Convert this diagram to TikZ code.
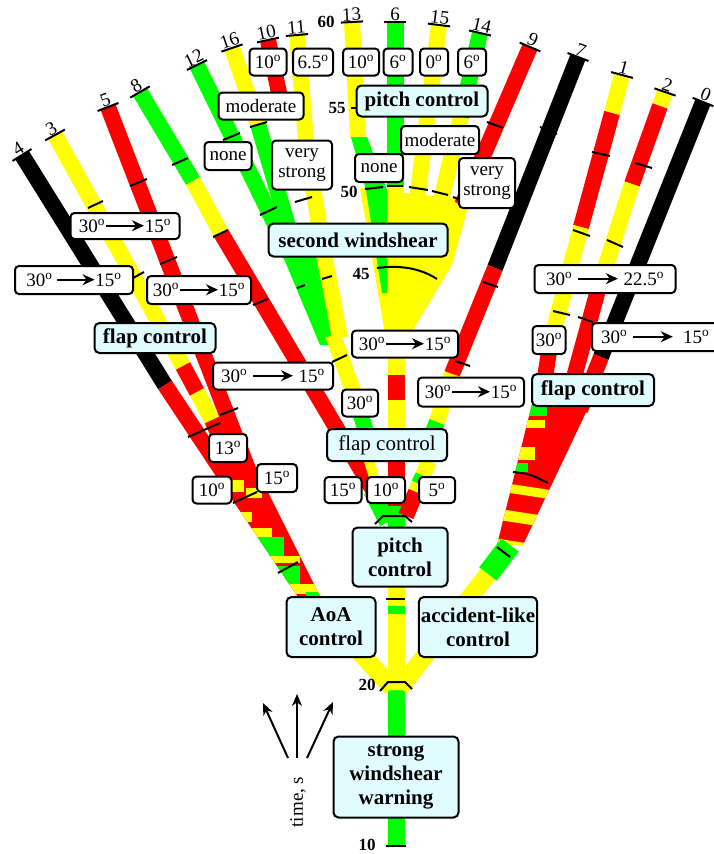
\documentclass[tikz,border=0pt]{standalone}
\usepackage{fontspec}
\setmainfont{Liberation Serif}
\usetikzlibrary{arrows.meta}
\definecolor{bgrn}{HTML}{00FF00}
\definecolor{byel}{HTML}{FFFF00}
\definecolor{bred}{HTML}{FF0000}
\definecolor{boxfill}{HTML}{E0FCFF}
\newcommand{\dg}{\textsuperscript{o}}
\newcommand{\rarr}[1]{\tikz[baseline=-6.5pt]\draw[line width=1.8pt,-{Stealth[length=12pt,width=11pt]}] (0pt,0pt) -- (#1,0pt);}

\begin{document}
\begin{tikzpicture}[x=1pt, y=-1pt,
    band/.style = {line width=16pt},
    tk/.style = {line width=2pt, black},
    ctrl/.style = {draw, line width=2pt, rounded corners=5pt, fill=boxfill, align=center,
                   inner sep=2pt, font=\bfseries\fontsize{21}{24}\selectfont},
    tag/.style = {draw, line width=2pt, rounded corners=4pt, fill=white, align=center,
                  inner sep=2pt, font=\fontsize{19}{20}\selectfont},
    numtop/.style = {font=\fontsize{19}{19}\selectfont, inner sep=1pt, minimum width=22pt,
                     anchor=south, rotate=#1,
                     append after command={(\tikzlastnode.south west) edge[tk] (\tikzlastnode.south east)}},
    tnum/.style = {font=\bfseries\fontsize{17}{17}\selectfont, inner sep=0pt},
    tarr/.style = {line width=2pt, -{Stealth[length=12pt,width=10pt]}}
  ]
    \useasboundingbox (0,0) rectangle (713,854);

    % trunk and first fork
    \draw[band,bgrn,line width=17pt] (396,690) -- (396,846);
    \draw[band,byel,line width=17pt] (396,587) -- (396,690);
    \draw[bgrn,line width=17pt] (396,606) -- (396,614);
    \draw[band,byel,line width=18pt] (311,598) -- (392,688);
    \draw[band,byel,line width=18pt] (488,574) -- (400,688);
    \fill[byel] (381,690) -- (411,690) -- (404,672) -- (388,672) -- cycle;

    % left group: 4, 3, 5
    \draw[band,black] (22,155) -- (165,385);
    \draw[band,bred] (165,385) -- (238,495);
    \draw[band,byel] (55,135) -- (183,366);
    \draw[band,bred] (183,366) -- (197,392);
    \draw[band,byel] (197,392) -- (212,420);
    \draw[band,bred] (212,420) -- (245,490);
    \draw[band,bred] (108,107) -- (258,495);
    \begin{scope}
      \clip (219,480) -- (262,480) -- (322,600) -- (300,600) -- cycle;
      \fill[bred] (200,470) rectangle (330,610);
      \fill[byel] (228,478) rectangle (244,492);
      \fill[byel] (246,488) rectangle (262,498);
      \fill[byel] (238,512) rectangle (252,522);
      \fill[byel] (252,528) rectangle (272,540);
      \fill[bgrn] (258,537) rectangle (284,556);
      \fill[byel] (270,556) rectangle (300,563);
      \fill[bgrn] (276,566) rectangle (300,588);
      \fill[byel] (290,584) rectangle (322,594);
      \fill[bgrn] (306,592) rectangle (322,600);
    \end{scope}

    % middle-left group: 8, 12, 16, 10, 11
    \draw[band,bgrn] (140,92) -- (193,181);
    \draw[band,byel] (193,181) -- (221,233);
    \draw[band,bred] (221,233) -- (372,488);
    \draw[band,bgrn] (197,65) -- (290,255);
    \draw[band,byel] (232,48) -- (258,124);
    \draw[band,bgrn] (258,124) -- (292,240);
    \draw[band,bred] (268,40) -- (283,112);
    \fill[bgrn] (272,230) -- (318,230) -- (338,330) -- (335,345) -- (320,345) -- cycle;
    \draw[band,byel] (297,35) -- (306,140) -- (322,245) -- (333,300) -- (340,338);
    \draw[band,byel] (333,335) -- (358,405);
    \draw[band,bgrn] (358,405) -- (366,432);

    % centre fan: 13, 6, 15, 14, 9
    \fill[byel] (360,188) -- (470,200) -- (452,265) -- (425,310) -- (404,345) -- (387,345) -- cycle;
    \draw[band,byel] (352,22) -- (358,137);
    \fill[bgrn] (351,137) -- (367,137) -- (387,190) -- (387,293) -- (382,293) -- (366,190) -- cycle;
    \draw[band,bgrn,line width=17pt] (395,22) -- (395,187);
    \draw[band,byel,line width=17pt] (395,187) -- (395,200);
    \draw[band,byel] (439,25) -- (417,200);
    \draw[band,bgrn] (480,33) -- (461,117);
    \draw[band,byel] (461,117) -- (440,205);
    \draw[band,bred] (530,47) -- (462,205);
    \draw[band,byel,line width=17pt] (396,340) -- (396,375);
    \draw[band,bred,line width=17pt] (396,375) -- (396,400);
    \draw[band,byel,line width=17pt] (396,400) -- (396,432);

    % branch 7 into the centre
    \draw[band,black] (578,57) -- (495,268);
    \draw[band,bred] (495,268) -- (452,374);
    \draw[band,byel] (452,374) -- (437,422);
    \draw[band,bgrn] (437,422) -- (433,432);

    % below the centre flap control
    \draw[bred,line width=12pt] (352,458) -- (372,492);
    \draw[byel,line width=10pt] (368,458) -- (380,496);
    \draw[band,bgrn,line width=18pt] (372,490) -- (388,522);
    \draw[band,bred,line width=17pt] (396,460) -- (396,506);
    \draw[band,bgrn,line width=17pt] (396,506) -- (396,530);
    \draw[band,byel] (429,461) -- (423,476);
    \draw[band,bgrn] (423,476) -- (419,484);
    \draw[band,byel] (419,484) -- (416,492);
    \draw[band,bred] (416,492) -- (406,516);

    % right group: 1, 2, 0
    \draw[band,byel] (622,75) -- (612,113);
    \draw[band,bred] (612,113) -- (581,227);
    \draw[band,byel] (581,227) -- (550,345);
    \draw[band,bred] (550,345) -- (540,410);
    \draw[band,byel] (665,92) -- (660,106);
    \draw[band,bred] (660,106) -- (632,184);
    \draw[band,byel] (632,184) -- (598,290);
    \draw[band,bred] (598,290) -- (565,410);
    \draw[band,black] (703,102) -- (601,357);
    \draw[band,bred] (601,357) -- (580,410);
    \begin{scope}
      \clip (532,404) -- (590,404) -- (523,545) -- (497,545) -- cycle;
      \fill[bred] (480,400) rectangle (600,550);
      \fill[bgrn] (515,404) rectangle (547,416);
      \fill[byel] (515,420) rectangle (545,428);
      \fill[byel] (505,447) rectangle (535,460);
      \fill[bgrn] (500,463) rectangle (528,472);
      \draw[byel,line width=9pt] (480,484) -- (600,502);
      \draw[byel,line width=11pt] (470,510) -- (600,530);
      \draw[byel,line width=7pt] (470,538) -- (600,558);
    \end{scope}
    \draw[band,bgrn,line width=22pt] (510,545) -- (488,574);

    % time marks across the strands
    \draw[tk] (88,208) -- (103,201);
    \draw[tk] (133,278) -- (144,272);
    \draw[tk] (130,186) -- (147,179);
    \draw[tk] (160,264) -- (177,257);
    \draw[tk] (188,437) -- (220,423);
    \draw[tk] (220,415) -- (238,408);
    \draw[tk] (233,503) -- (257,492);
    \draw[tk] (278,573) -- (298,562);
    \draw[tk] (172,165) -- (188,158);
    \draw[tk] (213,237) -- (228,230);
    \draw[tk] (253,305) -- (268,299);
    \draw[tk] (223,140) -- (240,133);
    \draw[tk] (260,215) -- (277,207);
    \draw[tk] (250,127) -- (267,122);
    \draw[tk] (295,202) -- (312,197);
    \draw[tk] (322,279) -- (332,276);
    \draw[tk] (297,288) -- (305,285);
    \draw[tk] (332,362) -- (347,355);
    \draw[tk] (365,189) -- (383,187);
    \draw[tk] (387,186) -- (403,186);
    \draw[tk] (409,187) -- (428,190);
    \draw[tk] (432,191) -- (448,195);
    \draw[tk] (453,197) -- (461,200);
    \draw[tk] (377,268) .. controls (400,265) and (420,268) .. (437,279);
    \draw[tk] (351,108) -- (357,108);
    \draw[tk] (487,122) -- (503,128);
    \draw[tk] (540,127) -- (557,134);
    \draw[tk] (483,282) -- (498,287);
    \draw[tk] (455,361) -- (470,366);
    \draw[tk] (592,152) -- (610,156);
    \draw[tk] (573,230) -- (590,236);
    \draw[tk] (553,311) -- (570,315);
    \draw[tk] (635,163) -- (652,168);
    \draw[tk] (607,240) -- (623,247);
    \draw[tk] (578,317) -- (593,322);
    \draw[tk] (513,472) .. controls (530,474) .. (548,483);
    \draw[tk] (497,547) -- (510,557);
    \draw[tk] (375,524) -- (383,516) -- (405,516) -- (412,522);
    \draw[tk] (386,599) -- (405,599);
    \draw[tk] (380,691) -- (388,682) -- (405,682) -- (412,689);
    \draw[tk] (386,846) -- (406,846);

    % time in seconds
    \node[tnum] (s60) at (326,22) {60};
    \node[tnum] (s55) at (337,108) {55};
    \node[tnum] (s50) at (349,192) {50};
    \node[tnum] (s45) at (361,274) {45};
    \node[tnum] (s20) at (367,685) {20};
    \node[tnum] (s10) at (367,845) {10};

    % strand numbers
    \node[numtop=32] (n4) at (22,155) {4};
    \node[numtop=29] (n3) at (55,135) {3};
    \node[numtop=21] (n5) at (108,107) {5};
    \node[numtop=30] (n8) at (140,92) {8};
    \node[numtop=26] (n12) at (197,65) {12};
    \node[numtop=19] (n16) at (232,48) {16};
    \node[numtop=12] (n10) at (268,40) {10};
    \node[numtop=5] (n11) at (297,35) {11};
    \node[numtop=3] (n13) at (352,22) {13};
    \node[numtop=0] (n6) at (395,22) {6};
    \node[numtop=-7] (n15) at (439,25) {15};
    \node[numtop=-13] (n14) at (480,33) {14};
    \node[numtop=-23] (n9) at (530,47) {9};
    \node[numtop=-21] (n7) at (578,57) {7};
    \node[numtop=-15] (n1) at (622,75) {1};
    \node[numtop=-19] (n2) at (665,92) {2};
    \node[numtop=-22] (n0) at (703,102) {0};

    % control phases
    \node[ctrl, minimum width=125pt, minimum height=81pt] (warn) at (396,777) {strong\\windshear\\warning};
    \node[ctrl, minimum width=89pt, minimum height=60pt] (aoa) at (331,627) {AoA\\control};
    \node[ctrl, minimum width=110pt, minimum height=60pt] (accid) at (478,627) {accident-like\\control};
    \node[ctrl, minimum width=95pt, minimum height=59pt] (pitchm) at (400,557) {pitch\\control};
    \node[ctrl, font=\fontsize{21}{24}\selectfont, minimum width=120pt, minimum height=32pt] (flapm) at (387,445) {flap control};
    \node[ctrl, minimum width=121pt, minimum height=30pt] (flapl) at (155,338) {flap control};
    \node[ctrl, minimum width=122pt, minimum height=32pt] (flapr) at (593,390) {flap control};
    \node[ctrl, minimum width=179pt, minimum height=33pt] (swind) at (358,240) {second windshear};
    \node[ctrl, minimum width=131pt, minimum height=31pt] (pitcht) at (422,101) {pitch control};

    % settings
    \node[tag, minimum width=37pt, minimum height=27pt] (t10a) at (268,62) {10\dg};
    \node[tag, minimum width=40pt, minimum height=27pt] (t65) at (313,62) {6.5\dg};
    \node[tag, minimum width=36pt, minimum height=27pt] (t10b) at (361,62) {10\dg};
    \node[tag, minimum width=29pt, minimum height=27pt] (t6a) at (398,62) {6\dg};
    \node[tag, minimum width=28pt, minimum height=27pt] (t0) at (434,62) {0\dg};
    \node[tag, minimum width=28pt, minimum height=27pt] (t6b) at (472,62) {6\dg};
    \node[tag, minimum width=85pt, minimum height=27pt] (modl) at (261,106) {moderate};
    \node[tag, minimum width=47pt, minimum height=28pt] (nonel) at (228,156) {none};
    \node[tag, minimum width=60pt, minimum height=49pt] (vstrl) at (302,165) {very\\strong};
    \node[tag, minimum width=48pt, minimum height=28pt] (noner) at (379,168) {none};
    \node[tag, minimum width=78pt, minimum height=28pt] (modr) at (440,140) {moderate};
    \node[tag, minimum width=56pt, minimum height=50pt] (vstrr) at (487,183) {very\\strong};
    \node[tag, minimum width=109pt, minimum height=26pt] (fa) at (125,226) {30\dg\rarr{38pt}15\dg};
    \node[tag, minimum width=118pt, minimum height=28pt] (fb) at (74,280) {30\dg\,\rarr{38pt}15\dg};
    \node[tag, minimum width=104pt, minimum height=28pt] (fc) at (199,290) {30\dg\rarr{38pt}15\dg};
    \node[tag, minimum width=120pt, minimum height=27pt] (fd) at (273,376) {30\dg\ \rarr{40pt}\ 15\dg};
    \node[tag, minimum width=106pt, minimum height=27pt] (fe) at (405,344) {30\dg\rarr{38pt}15\dg};
    \node[tag, minimum width=36pt, minimum height=27pt] (t30a) at (360,403) {30\dg};
    \node[tag, minimum width=106pt, minimum height=29pt] (ff) at (471,392) {30\dg\rarr{38pt}15\dg};
    \node[tag, minimum width=141pt, minimum height=28pt] (fg) at (605,279) {30\dg\ \rarr{40pt}\ 22.5\dg};
    \node[tag, minimum width=33pt, minimum height=28pt] (t30b) at (549,340) {30\dg};
    \node[tag, anchor=west, inner xsep=9pt, minimum height=28pt] (fh) at (591,337) {30\dg\ \rarr{40pt}\ \ 15\dg\hspace{14pt}};
    \node[tag, minimum width=37pt, minimum height=26pt] (t15m) at (343,490) {15\dg};
    \node[tag, minimum width=38pt, minimum height=26pt] (t10m) at (386,490) {10\dg};
    \node[tag, minimum width=36pt, minimum height=26pt] (t5) at (437,490) {5\dg};
    \node[tag, minimum width=38pt, minimum height=28pt] (t13) at (228,448) {13\dg};
    \node[tag, minimum width=39pt, minimum height=27pt] (t10l) at (212,490) {10\dg};
    \node[tag, minimum width=40pt, minimum height=28pt] (t15l) at (277,478) {15\dg};

    % time direction
    \coordinate (tb) at (297,758);
    \coordinate (tl) at (263,703);
    \coordinate (tm) at (297,694);
    \coordinate (tr) at (333,702);
    \draw[tarr] ([xshift=-9pt]tb) -- (tl);
    \draw[tarr] (tb) -- (tm);
    \draw[tarr] ([xshift=10pt]tb) -- (tr);
    \node[rotate=90, font=\fontsize{19}{20}\selectfont] (tlab) at (298,802) {time, s};

  \end{tikzpicture}
\end{document}
